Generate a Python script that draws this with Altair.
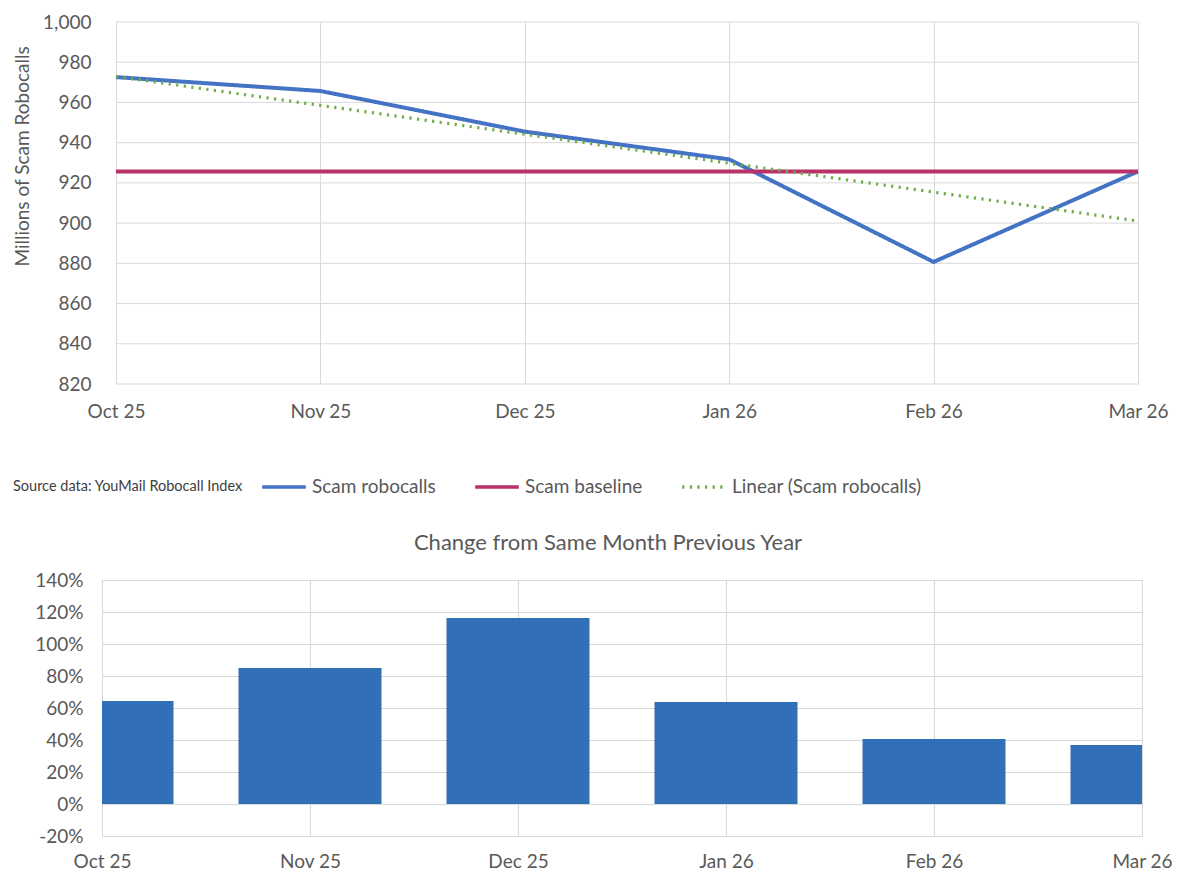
import json
import altair as alt
import pandas as pd

# ---------------- data ----------------
months = ["Oct 25", "Nov 25", "Dec 25", "Jan 26", "Feb 26", "Mar 26"]
scam_robocalls = [972.6, 965.7, 945.5, 931.7, 880.7, 925.7]
scam_baseline = [925.7, 925.7, 925.7, 925.7, 925.7, 925.7]
yoy_change = [0.644, 0.850, 1.163, 0.638, 0.406, 0.369]
top_ticks = [820, 840, 860, 880, 900, 920, 940, 960, 980, 1000]
bottom_ticks = [-0.2, 0.0, 0.2, 0.4, 0.6, 0.8, 1.0, 1.2, 1.4]

series_names = ["Scam robocalls", "Scam baseline", "Linear (Scam robocalls)"]
series_colors = ["#4472C4", "#B83269", "#70AD47"]
series_dash = [[1, 0], [1, 0], [2.2, 5.4]]

idx = list(range(len(months)))
lines_df = pd.DataFrame({
    "idx": idx + idx,
    "value": scam_robocalls + scam_baseline,
    "series": [series_names[0]] * len(idx) + [series_names[1]] * len(idx),
})
bars_df = pd.DataFrame({"idx": idx, "change": yoy_change})
grid_df = pd.DataFrame({"v": top_ticks, "x0": [min(idx)] * len(top_ticks), "x1": [max(idx)] * len(top_ticks)})

FONT = "Lato"
GRID = "#D9D9D9"
TEXT = "#595959"
month_expr = json.dumps(months) + "[round(datum.value)]"

# ---------------- top chart ----------------
x_top_scale = alt.Scale(domain=[-0.0685, 5], nice=False, zero=False, padding=0)
x_top_axis = alt.Axis(values=idx, labelExpr=month_expr, grid=True, gridColor=GRID,
                      domain=False, ticks=False, labelPadding=18, labelFontSize=19,
                      labelColor=TEXT, labelFlush=False, title=None)
y_top_scale = alt.Scale(domain=[820, 1000], nice=False, zero=False, padding=0)
y_top_axis = alt.Axis(values=top_ticks, format=",d", grid=False, domain=False, ticks=False,
                      offset=-14, labelPadding=25, labelFontSize=19, labelColor=TEXT,
                      title="Millions of Scam Robocalls", titleFontSize=19, titleColor=TEXT,
                      titleFontWeight="normal", titlePadding=10, titleY=134)

legend = alt.Legend(orient="none", legendX=-89, legendY=441, direction="horizontal",
                    title="Source data: YouMail Robocall Index", titleOrient="left",
                    titleAnchor="middle", titleBaseline="top",
                    titleFontSize=14.5, titleColor="#404040", titleFontWeight="normal",
                    titlePadding=17, titleLimit=500, labelLimit=500,
                    labelFontSize=19, labelColor=TEXT, labelOffset=4,
                    symbolType="stroke", symbolSize=1900, symbolStrokeWidth=3.5,
                    columnPadding=32)
color_enc = alt.Color("series:N", scale=alt.Scale(domain=series_names, range=series_colors),
                      legend=legend)
dash_enc = alt.StrokeDash("series:N", scale=alt.Scale(domain=series_names, range=series_dash),
                          legend=legend)

hgrid = alt.Chart(grid_df).mark_rule(color=GRID, strokeWidth=1).encode(
    y=alt.Y("v:Q", scale=y_top_scale, axis=y_top_axis),
    x=alt.X("x0:Q", scale=x_top_scale, axis=x_top_axis),
    x2="x1:Q",
)

lines = alt.Chart(lines_df).mark_line(strokeWidth=4).encode(
    x=alt.X("idx:Q", scale=x_top_scale, axis=x_top_axis),
    y=alt.Y("value:Q", scale=y_top_scale, axis=y_top_axis),
    color=color_enc,
    strokeDash=dash_enc,
    order="idx:Q",
)

trend = alt.Chart(lines_df).transform_filter(
    alt.datum.series == series_names[0]
).transform_regression("idx", "value").transform_calculate(
    series="'" + series_names[2] + "'"
).mark_line(strokeWidth=3.2).encode(
    x=alt.X("idx:Q", scale=x_top_scale, axis=x_top_axis),
    y=alt.Y("value:Q", scale=y_top_scale, axis=y_top_axis),
    color=color_enc,
    strokeDash=dash_enc,
)

top = alt.layer(hgrid, lines, trend).properties(width=1036, height=362)

# ---------------- bottom chart ----------------
bottom = alt.Chart(bars_df).mark_bar(size=143, clip=True, color="#3170B7").encode(
    x=alt.X("idx:Q", scale=alt.Scale(domain=[0, 5], nice=False, zero=False, padding=0),
            axis=alt.Axis(values=idx, labelExpr=month_expr, grid=True, gridColor=GRID,
                          domain=False, ticks=False, labelPadding=16, labelFontSize=19,
                          labelColor=TEXT, labelFlush=False, title=None)),
    y=alt.Y("change:Q", scale=alt.Scale(domain=[-0.2, 1.4], nice=False, padding=0),
            axis=alt.Axis(values=bottom_ticks, labelExpr="round(datum.value*100) + '%'",
                          grid=True, gridColor=GRID, domain=False, ticks=False,
                          labelPadding=19, labelFontSize=19, labelColor=TEXT, title=None)),
).properties(
    width=1040, height=256,
    title=alt.TitleParams("Change from Same Month Previous Year", fontSize=22, color=TEXT,
                          fontWeight="normal", offset=16, dx=-14, font=FONT),
)

chart = alt.vconcat(top, bottom, spacing=111).properties(
    padding={"left": 5, "right": 5, "top": 5, "bottom": 5}, background="white"
).configure(font=FONT).configure_view(strokeWidth=0)

chart.save("out.html", embed_options={"renderer": "svg", "actions": False})
